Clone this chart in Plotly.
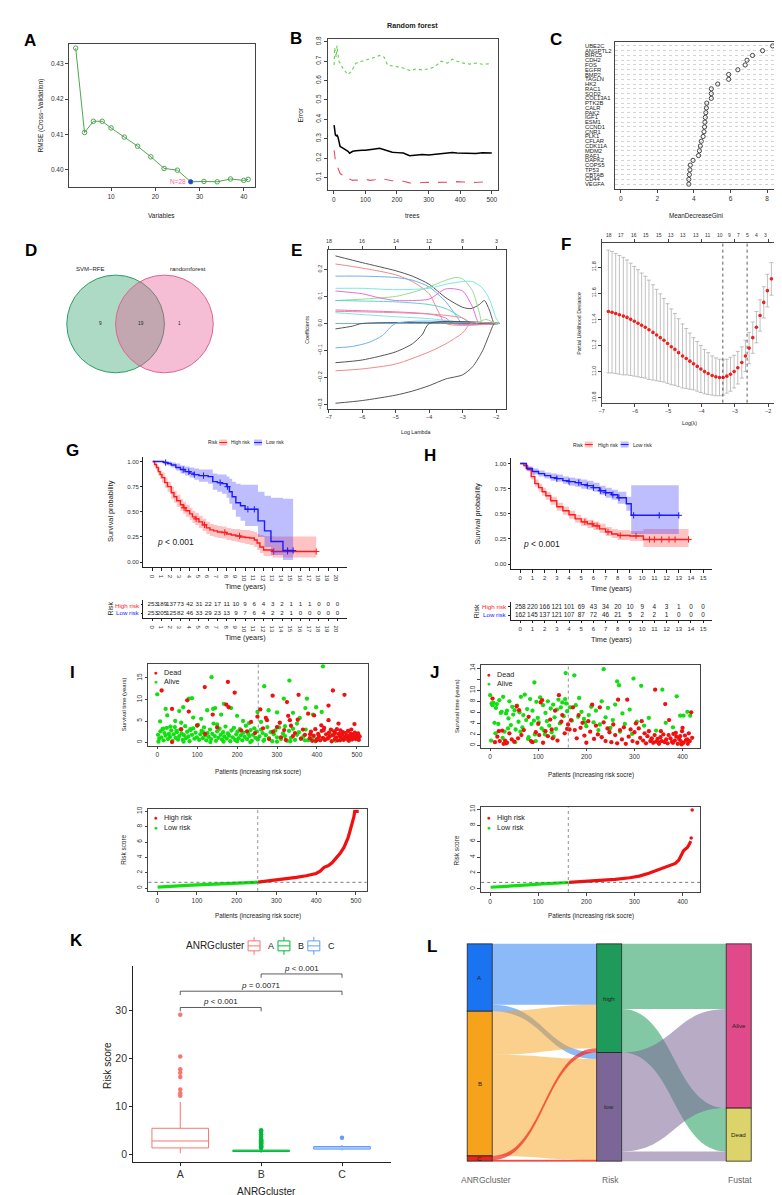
import plotly.graph_objects as go

W, H = 782, 1195
FONT = "Liberation Sans, Arial, sans-serif"

# ============================ DATA ============================
# (A) SVM-RFE cross-validation
a_variables = [2, 4, 6, 8, 10, 13, 16, 19, 22, 25, 28, 31, 34, 37, 40, 41]
a_rmse = [0.4345, 0.4105, 0.4137, 0.4137, 0.4118, 0.4092, 0.4066, 0.4036,
          0.4003, 0.3998, 0.3965, 0.3966, 0.3965, 0.3973, 0.3969, 0.3972]
a_best_n = 28

# (B) random forest error rate vs number of trees
b_trees = [1, 3, 5, 8, 10, 13, 16, 20, 25, 30, 35, 40, 45, 50, 55, 60, 70, 80, 90, 100,
           115, 130, 145, 160, 170, 185, 200, 220, 240, 260, 280, 300, 320, 340, 360,
           375, 390, 410, 430, 450, 470, 490, 500]
b_err_oob = [0.37, 0.33, 0.32, 0.315, 0.32, 0.31, 0.29, 0.26, 0.255, 0.25, 0.245, 0.24, 0.235,
             0.225, 0.23, 0.235, 0.238, 0.24, 0.24, 0.24, 0.242, 0.247, 0.25, 0.242, 0.235,
             0.23, 0.228, 0.226, 0.212, 0.215, 0.218, 0.216, 0.22, 0.224, 0.226, 0.228,
             0.226, 0.225, 0.226, 0.224, 0.227, 0.225, 0.226]
b_err_class0 = [0.24, 0.2, 0.19, 0.17, 0.16, 0.15, 0.13, 0.12, 0.115, 0.11, 0.105, 0.11, 0.1,
                0.092, 0.088, 0.085, 0.087, 0.085, 0.09, 0.09, 0.085, 0.088, 0.095, 0.09,
                0.087, 0.083, 0.082, 0.08, 0.072, 0.07, 0.074, 0.075, 0.075, 0.076, 0.075,
                0.074, 0.078, 0.076, 0.074, 0.074, 0.076, 0.077, 0.078]
b_err_class1 = [0.68, 0.77, 0.74, 0.72, 0.78, 0.72, 0.7, 0.69, 0.67, 0.66, 0.65, 0.64, 0.63,
                0.64, 0.645, 0.66, 0.69, 0.695, 0.7, 0.705, 0.71, 0.72, 0.73, 0.72, 0.68,
                0.675, 0.67, 0.665, 0.652, 0.66, 0.655, 0.66, 0.672, 0.7, 0.69, 0.71, 0.7,
                0.69, 0.685, 0.69, 0.684, 0.686, 0.68]

# (C) variable importance
c_genes = ["UBE2C", "ANGPTL2", "BIRC5", "CDH2", "FOS", "EGFR", "BMP2", "TAGLN", "HK2",
           "RAC1", "SOD2", "COL13A1", "PTK2B", "CALR", "PAK2", "IGF1", "ESM1", "CCND1",
           "CNR1", "PLK1", "CFLAR", "CDK11A", "MDM2", "RAF1", "DAPK2", "COPS5", "TP53",
           "CBTAB", "CD44", "VEGFA"]
c_gini = [8.3, 7.75, 7.2, 6.9, 6.8, 6.4, 5.9, 5.9, 5.3, 4.95, 4.95, 4.95, 4.7, 4.68, 4.65,
          4.62, 4.6, 4.58, 4.55, 4.5, 4.4, 4.35, 4.3, 4.25, 3.95, 3.8, 3.78, 3.75, 3.72, 3.72]

# (D) Venn
d_sets = ["SVM\u2212RFE", "randomforest"]
d_counts = [9, 19, 1]   # only SVM-RFE, both, only randomforest

# (E) LASSO coefficient paths (log lambda, coefficient)
e_paths_x = [
    [-6.8, -6, -5, -4.5, -4, -3.5, -3, -2.75, -2.5, -2.35, -2.2, -2.05, -1.9],
    [-6.8, -6, -5, -4.5, -4, -3.75, -3.5, -1.9],
    [-6.8, -6, -5, -4.5, -4, -3.5, -3.2, -3.0, -1.9],
    [-6.8, -6, -5, -4.5, -4, -3.5, -3.2, -3.0, -2.7, -2.5, -2.4, -1.9],
    [-6.8, -6, -5.5, -5, -4.5, -4, -3.5, -3, -2.7, -2.5, -1.9],
    [-6.8, -6, -5, -4, -3.5, -3, -2.7, -2.4, -2.2, -2.0, -1.9],
    [-6.8, -6, -5, -4, -3.5, -3, -2.75, -1.9],
    [-6.8, -6, -5, -4, -3.5, -3.3, -1.9],
    [-6.8, -6, -5, -4, -3.5, -3, -2.7, -1.9],
    [-6.8, -6, -5, -4, -3.4, -3.0, -2.75, -1.9],
    [-6.8, -4, -1.9],
    [-6.8, -6.3, -6, -1.9],
    [-6.8, -6.3, -5.8, -5.4, -5.0, -1.9],
    [-6.8, -6, -5, -4.5, -4.2, -4.0, -1.9],
    [-6.8, -6, -5, -4, -3.5, -3, -2.75, -1.9],
    [-6.8, -6, -5, -4.5, -4, -3.5, -3, -2.7, -2.4, -2.2, -2.05, -1.9],
    [-2.6, -2.3, -2.0, -1.9],
]
e_paths_y = [
    [0.25, 0.225, 0.195, 0.175, 0.145, 0.095, 0.06, 0.055, 0.07, 0.085, 0.05, 0.0, 0.0],
    [0.22, 0.205, 0.18, 0.155, 0.11, 0.05, 0.0, 0.0],
    [0.175, 0.175, 0.17, 0.16, 0.135, 0.08, 0.03, 0.0, 0.0],
    [0.085, 0.09, 0.1, 0.115, 0.135, 0.16, 0.17, 0.165, 0.12, 0.04, 0.0, 0.0],
    [0.12, 0.11, 0.095, 0.085, 0.085, 0.09, 0.128, 0.12, 0.06, 0.0, 0.0],
    [0.13, 0.13, 0.125, 0.13, 0.145, 0.155, 0.155, 0.13, 0.09, 0.02, 0.0],
    [0.085, 0.083, 0.08, 0.07, 0.055, 0.02, 0.0, 0.0],
    [0.05, 0.047, 0.043, 0.035, 0.02, 0.0, 0.0],
    [0.045, 0.043, 0.04, 0.035, 0.03, 0.02, 0.0, 0.0],
    [0.04, 0.033, 0.025, 0.018, 0.01, 0.004, 0.0, 0.0],
    [0.0, 0.0, 0.0],
    [-0.02, -0.01, 0.0, 0.0],
    [-0.09, -0.085, -0.07, -0.045, 0.0, 0.0],
    [-0.145, -0.135, -0.105, -0.075, -0.04, 0.0, 0.0],
    [-0.175, -0.168, -0.15, -0.105, -0.075, -0.035, 0.0, 0.0],
    [-0.295, -0.285, -0.265, -0.25, -0.23, -0.205, -0.19, -0.16, -0.1, -0.04, 0.0, 0.0],
    [0.0, 0.015, 0.0, 0.0],
]
e_top_at = [-7, -6, -5, -4, -3, -2]
e_top_labels = ["18", "16", "14", "12", "8", "3"]

# (F) cross-validated partial likelihood deviance
f_loglambda = [-6.80, -6.69, -6.58, -6.47, -6.35, -6.24, -6.13, -6.02, -5.91, -5.80, -5.69,
               -5.58, -5.46, -5.35, -5.24, -5.13, -5.02, -4.91, -4.80, -4.69, -4.57, -4.46,
               -4.35, -4.24, -4.13, -4.02, -3.91, -3.80, -3.68, -3.57, -3.46, -3.35, -3.24,
               -3.13, -3.02, -2.91, -2.79, -2.68, -2.57, -2.46, -2.35, -2.24, -2.13, -2.02,
               -1.90]
f_cvm = [11.46, 11.455, 11.445, 11.435, 11.425, 11.415, 11.40, 11.385, 11.37, 11.355, 11.34,
         11.32, 11.30, 11.28, 11.26, 11.24, 11.215, 11.19, 11.17, 11.145, 11.12, 11.10, 11.08,
         11.06, 11.04, 11.02, 11.0, 10.985, 10.97, 10.96, 10.955, 10.955, 10.965, 10.98, 11.0,
         11.03, 11.07, 11.12, 11.18, 11.26, 11.34, 11.43, 11.53, 11.62, 11.71]
f_cvsd = [0.47, 0.465, 0.46, 0.455, 0.45, 0.44, 0.43, 0.42, 0.41, 0.40, 0.39, 0.38, 0.365,
          0.35, 0.335, 0.32, 0.305, 0.29, 0.275, 0.26, 0.245, 0.23, 0.215, 0.20, 0.19, 0.18,
          0.17, 0.16, 0.15, 0.145, 0.14, 0.135, 0.13, 0.13, 0.125, 0.125, 0.12, 0.12, 0.12,
          0.12, 0.12, 0.12, 0.12, 0.125, 0.125]
f_lambda_min = -3.36
f_lambda_1se = -2.63
f_top_at = [-6.77, -6.43, -6.03, -5.66, -5.29, -4.91, -4.55, -4.18, -3.81, -3.43, -3.17,
            -2.9, -2.62, -2.36, -2.08]
f_top_labels = ["18", "17", "16", "15", "15", "13", "13", "13", "11", "10", "9", "7", "5",
                "4", "3"]

# (G) Kaplan-Meier, training cohort
g_high_t = [0, 0.2, 0.4, 0.6, 0.8, 1.0, 1.3, 1.6, 2.0, 2.3, 2.6, 3.0, 3.3, 3.6, 4.0, 4.3, 4.6,
            5.0, 5.4, 5.8, 6.2, 6.6, 7.0, 7.5, 8.0, 8.5, 9.0, 9.5, 10.0, 10.5, 11.0, 11.3,
            11.6, 12.0, 13.0, 17.7]
g_high_s = [1.0, 0.97, 0.94, 0.90, 0.87, 0.84, 0.79, 0.75, 0.69, 0.65, 0.61, 0.57, 0.54, 0.51,
            0.48, 0.45, 0.43, 0.40, 0.37, 0.34, 0.32, 0.31, 0.30, 0.295, 0.28, 0.27, 0.26,
            0.25, 0.245, 0.24, 0.22, 0.19, 0.15, 0.12, 0.105, 0.105]
g_high_lo = [1.0, 0.95, 0.91, 0.86, 0.83, 0.79, 0.74, 0.70, 0.63, 0.59, 0.55, 0.51, 0.48,
             0.45, 0.42, 0.39, 0.37, 0.34, 0.31, 0.28, 0.26, 0.25, 0.24, 0.235, 0.22, 0.21,
             0.20, 0.19, 0.18, 0.17, 0.15, 0.12, 0.09, 0.06, 0.045, 0.045]
g_high_hi = [1.0, 0.99, 0.97, 0.94, 0.91, 0.89, 0.84, 0.80, 0.75, 0.71, 0.67, 0.63, 0.60,
             0.57, 0.54, 0.51, 0.49, 0.46, 0.43, 0.40, 0.38, 0.37, 0.36, 0.355, 0.34, 0.33,
             0.33, 0.32, 0.32, 0.31, 0.30, 0.28, 0.27, 0.26, 0.255, 0.255]
g_low_t = [0, 1.2, 1.6, 2.0, 2.5, 3.0, 3.5, 4.0, 4.5, 5.0, 6.0, 6.5, 7.0, 7.5, 8.0, 8.3, 8.6,
           9.0, 9.5, 10.0, 11.4, 12.1, 12.8, 14.1, 15.2]
g_low_s = [1.0, 0.99, 0.98, 0.965, 0.94, 0.92, 0.90, 0.885, 0.87, 0.86, 0.85, 0.80, 0.79, 0.78,
           0.75, 0.70, 0.65, 0.59, 0.56, 0.525, 0.41, 0.31, 0.205, 0.115, 0.115]
g_low_lo = [1.0, 0.97, 0.96, 0.94, 0.91, 0.88, 0.86, 0.84, 0.82, 0.80, 0.78, 0.72, 0.70, 0.68,
            0.64, 0.58, 0.52, 0.45, 0.41, 0.36, 0.25, 0.15, 0.07, 0.02, 0.02]
g_low_hi = [1.0, 1.0, 1.0, 0.99, 0.98, 0.96, 0.95, 0.94, 0.93, 0.92, 0.92, 0.88, 0.87, 0.87,
            0.85, 0.83, 0.80, 0.78, 0.77, 0.77, 0.70, 0.66, 0.64, 0.63, 0.63]
g_high_censor = [3.4, 4.7, 5.6, 7.8, 9.4, 13.1, 14.6, 17.7]
g_low_censor = [1.4, 3.3, 3.9, 4.5, 5.5, 7.3, 8.1, 10.3, 11.0, 14.6, 15.2]
g_times = [0, 1, 2, 3, 4, 5, 6, 7, 8, 9, 10, 11, 12, 13, 14, 15, 16, 17, 18, 19, 20]
g_table_high = [253, 189, 137, 73, 42, 31, 22, 17, 11, 10, 9, 6, 4, 3, 2, 1, 1, 1, 0, 0, 0]
g_table_low = [253, 205, 125, 82, 46, 33, 29, 23, 13, 9, 7, 6, 4, 2, 2, 1, 0, 0, 0, 0, 0]

# (H) Kaplan-Meier, validation cohort
h_high_t = [0, 0.3, 0.6, 0.9, 1.2, 1.5, 1.8, 2.1, 2.5, 3.0, 3.5, 4.0, 4.5, 5.0, 5.5, 6.0, 6.5,
            7.0, 7.5, 8.0, 9.0, 10.1, 13.8]
h_high_s = [1.0, 0.98, 0.94, 0.87, 0.80, 0.76, 0.72, 0.68, 0.63, 0.57, 0.53, 0.49, 0.45, 0.42,
            0.40, 0.38, 0.35, 0.32, 0.30, 0.285, 0.28, 0.245, 0.245]
h_high_lo = [1.0, 0.96, 0.92, 0.84, 0.77, 0.72, 0.68, 0.64, 0.59, 0.53, 0.49, 0.45, 0.41, 0.38,
             0.36, 0.34, 0.31, 0.28, 0.26, 0.24, 0.23, 0.17, 0.17]
h_high_hi = [1.0, 1.0, 0.97, 0.91, 0.84, 0.80, 0.76, 0.72, 0.67, 0.61, 0.57, 0.53, 0.49, 0.46,
             0.44, 0.42, 0.40, 0.37, 0.35, 0.34, 0.33, 0.35, 0.35]
h_low_t = [0, 0.5, 1.0, 1.5, 2.0, 2.5, 3.0, 3.5, 4.0, 4.5, 5.0, 5.5, 6.0, 6.5, 7.0, 7.5, 8.0,
           8.7, 9.1, 13.0]
h_low_s = [1.0, 0.95, 0.92, 0.90, 0.88, 0.86, 0.85, 0.83, 0.82, 0.81, 0.79, 0.78, 0.76, 0.73,
           0.71, 0.69, 0.66, 0.60, 0.485, 0.485]
h_low_lo = [1.0, 0.93, 0.89, 0.87, 0.85, 0.83, 0.82, 0.80, 0.78, 0.77, 0.75, 0.74, 0.72, 0.69,
            0.66, 0.64, 0.60, 0.53, 0.30, 0.30]
h_low_hi = [1.0, 0.97, 0.95, 0.93, 0.91, 0.90, 0.89, 0.87, 0.86, 0.85, 0.84, 0.83, 0.81, 0.78,
            0.76, 0.74, 0.72, 0.67, 0.785, 0.785]
h_high_censor = [5.3, 5.9, 6.3, 7.2, 8.2, 9.5, 10.6, 11.0, 11.6, 12.2, 12.7, 13.8]
h_low_censor = [3.0, 4.0, 4.8, 5.5, 6.0, 6.6, 7.0, 7.6, 8.1, 9.3, 11.4, 13.0]
h_times = [0, 1, 2, 3, 4, 5, 6, 7, 8, 9, 10, 11, 12, 13, 14, 15]
h_table_high = [258, 220, 166, 121, 101, 69, 43, 34, 20, 10, 9, 4, 3, 1, 0, 0]
h_table_low = [162, 145, 137, 121, 107, 87, 72, 46, 21, 5, 2, 2, 1, 0, 0, 0]

# (I) survival status / risk score, training cohort
i_alive_x = [2, 5, 8, 10, 13, 16, 18, 21, 24, 27,
             29, 32, 35, 38, 41, 44, 46, 49, 52, 55,
             58, 61, 64, 67, 70, 72, 75, 78, 81, 84,
             87, 90, 93, 96, 99, 102, 105, 108, 111, 114,
             117, 120, 123, 126, 129, 132, 135, 138, 141, 144,
             147, 150, 153, 156, 159, 162, 165, 168, 171, 174,
             177, 180, 183, 186, 189, 192, 195, 198, 201, 204,
             207, 210, 213, 216, 219, 222, 225, 228, 231, 234,
             237, 240, 243, 246, 249, 252, 256, 260, 264, 268,
             272, 276, 280, 284, 288, 292, 296, 300, 305, 310,
             315, 320, 325, 330, 335, 340, 345, 350, 355, 360,
             366, 372, 378, 384, 390, 396, 405, 418, 432, 447,
             462, 478, 493, 505, 3, 33, 66, 100, 133, 166,
             200, 233, 266, 300, 333, 370, 15, 48, 83, 115,
             0, 7, 21, 25, 45, 55, 65, 79, 87, 90,
             110, 125, 136, 140, 145, 160, 167, 185, 200, 215,
             230, 251, 268, 279, 300, 317, 331, 340, 357, 371,
             375, 390, 398, 412, 415, 60, 150, 260, 320, 350]
i_alive_t = [1.8, 0.9, 2.6, 1.2, 3.1, 0.5, 2.2, 1.6, 3.4, 0.8,
             2.0, 1.3, 2.8, 0.4, 1.9, 3.6, 1.1, 2.4, 0.7, 1.5,
             3.0, 2.1, 0.6, 1.7, 3.8, 1.0, 2.5, 1.4, 0.3, 2.9,
             1.8, 3.3, 0.9, 2.3, 1.2, 4.1, 0.6, 1.9, 2.7, 1.0,
             3.5, 1.6, 0.5, 2.2, 1.3, 3.0, 0.8, 2.0, 4.4, 1.5,
             0.4, 2.6, 1.1, 3.2, 1.8, 0.7, 2.4, 1.4, 3.7, 0.9,
             2.1, 1.6, 0.3, 2.8, 1.2, 3.4, 0.6, 1.9, 2.5, 1.0,
             3.1, 1.7, 0.5, 2.3, 1.3, 3.9, 0.8, 2.0, 1.5, 2.9,
             0.4, 1.8, 3.3, 1.1, 2.6, 0.7, 1.4, 3.0, 2.2, 0.6,
             1.7, 3.6, 1.0, 2.4, 0.3, 1.9, 2.8, 1.2, 3.5, 0.8,
             2.1, 1.5, 0.4, 2.7, 1.1, 3.2, 0.6, 1.8, 2.4, 0.9,
             1.4, 3.0, 0.5, 2.0, 1.2, 0.3, 1.6, 0.7, 2.2, 0.4,
             1.8, 0.6, 2.0, 1.5, 0.2, 3.7, 0.2, 3.9, 0.1, 0.2,
             0.3, 0.1, 0.4, 0.2, 0.3, 0.5, 3.2, 2.7, 3.1, 2.4,
             11.2, 4.9, 7.8, 6.3, 5.0, 7.3, 8.2, 10.2, 10.3, 5.8,
             5.5, 7.5, 15.2, 7.8, 8.0, 6.5, 9.0, 8.0, 6.2, 5.0,
             4.5, 7.1, 13.1, 7.5, 7.0, 10.2, 14.4, 6.9, 5.7, 8.0,
             10.2, 6.5, 8.2, 7.1, 17.7, 4.6, 4.2, 4.8, 3.8, 4.4]
i_dead_x = [11, 37, 37, 75, 79, 119, 139, 173, 177, 179,
            194, 210, 235, 251, 100, 150, 225, 120, 60, 245,
            258, 272, 275, 289, 307, 325, 328, 332, 354, 352,
            378, 393, 411, 429, 429, 440, 454, 469, 494, 265,
            280, 290, 300, 310, 318, 322, 335, 340, 345, 360,
            365, 370, 382, 385, 388, 392, 396, 400, 403, 405,
            408, 412, 415, 418, 420, 423, 426, 430, 432, 435,
            437, 440, 443, 445, 448, 450, 452, 455, 457, 459,
            461, 463, 465, 467, 470, 472, 474, 476, 478, 480,
            482, 484, 486, 488, 490, 492, 495, 497, 499, 501,
            503, 505, 507, 383, 398, 417, 428, 446, 458, 486]
i_dead_t = [12.1, 7.8, 0.1, 9.8, 7.2, 12.9, 6.5, 8.8, 14.1, 8.2,
            11.6, 2.8, 4.8, 6.0, 4.0, 3.5, 2.6, 2.0, 3.1, 2.2,
            7.7, 5.7, 5.2, 10.9, 4.6, 9.4, 6.2, 5.2, 11.1, 5.3,
            6.7, 6.3, 4.0, 8.6, 5.2, 12.1, 4.4, 11.1, 4.3, 3.3,
            0.8, 2.5, 3.6, 1.2, 2.9, 0.6, 3.9, 1.5, 2.2, 0.9,
            3.0, 1.8, 1.0, 2.5, 0.4, 1.6, 3.1, 0.8, 2.0, 1.3,
            0.5, 2.7, 1.1, 3.4, 0.6, 1.9, 0.9, 2.3, 1.4, 3.0,
            0.3, 1.7, 2.6, 0.8, 1.2, 3.1, 0.5, 2.0, 1.5, 2.8,
            0.9, 1.8, 2.4, 0.6, 1.3, 2.2, 0.9, 1.6, 2.7, 0.4,
            1.1, 2.0, 1.5, 0.7, 1.9, 1.2, 2.3, 0.8, 1.6, 1.0,
            2.1, 0.6, 1.4, 1.9, 0.4, 2.9, 1.0, 2.2, 0.5, 3.0]
i_cutoff_patient = 253
i_cutoff_score = 0.75
i_risk_low_x = [1, 25, 50, 75, 100, 125, 150, 175, 200, 225, 253]
i_risk_low = [0.12, 0.22, 0.30, 0.36, 0.42, 0.48, 0.54, 0.60, 0.65, 0.70, 0.76]
i_risk_high_x = [254, 275, 300, 325, 350, 375, 400, 410, 420, 430, 440, 450, 460, 470, 475,
                 480, 485, 490, 495, 497, 507]
i_risk_high = [0.78, 0.90, 1.02, 1.20, 1.40, 1.60, 1.90, 2.20, 2.70, 2.90, 3.30, 3.90, 4.50,
               5.30, 5.80, 6.50, 7.40, 8.20, 9.30, 10.0, 10.0]

# (J) survival status / risk score, validation cohort
j_alive_x = [0, 3, 5, 7, 9, 12, 14, 17, 19, 22,
             24, 27, 30, 33, 35, 38, 40, 43, 46, 48,
             51, 53, 56, 59, 61, 64, 67, 69, 72, 75,
             77, 80, 83, 86, 88, 91, 93, 96, 99, 101,
             104, 107, 110, 112, 115, 118, 120, 123, 126, 128,
             131, 134, 137, 139, 142, 145, 147, 150, 153, 156,
             158, 160, 157, 175, 236, 264, 268, 298, 314, 358,
             388, 92, 170, 178, 185, 190, 195, 200, 205, 210,
             215, 220, 225, 232, 240, 245, 250, 255, 260, 270,
             275, 280, 290, 295, 305, 320, 330, 345, 365, 380,
             395, 402, 410, 416, 166, 183, 198, 212, 228, 248,
             2, 11, 26, 37, 52, 63, 79, 95, 114, 132]
j_alive_t = [9.1, 7.6, 7.3, 7.7, 4.1, 6.8, 7.5, 3.9, 8.2, 5.9,
             6.1, 8.8, 2.5, 5.8, 6.3, 4.9, 8.0, 3.7, 7.0, 5.6,
             6.4, 2.9, 7.2, 4.3, 6.0, 8.8, 3.3, 5.5, 9.2, 4.6,
             6.6, 1.5, 8.4, 3.9, 6.3, 4.5, 2.0, 7.9, 5.0, 4.2,
             8.7, 3.1, 7.3, 2.7, 5.9, 4.4, 8.0, 3.6, 6.7, 2.4,
             7.4, 5.1, 3.0, 6.5, 8.3, 4.0, 6.9, 7.8, 5.3, 8.4,
             7.6, 6.2, 13.1, 12.7, 13.8, 11.6, 10.9, 12.1, 10.8, 10.1,
             8.9, 11.4, 4.5, 7.3, 8.6, 6.1, 4.8, 3.5, 5.5, 7.0,
             4.2, 6.3, 2.8, 8.0, 5.1, 6.8, 3.2, 4.6, 7.4, 2.5,
             5.8, 3.9, 6.5, 2.1, 4.3, 3.6, 5.0, 2.7, 4.1, 3.3,
             5.4, 5.4, 6.1, 5.4, 6.9, 5.2, 4.1, 7.2, 3.8, 2.9,
             0.9, 2.2, 1.4, 3.1, 0.6, 2.5, 1.2, 0.8, 2.0, 1.6]
j_dead_x = [5, 10, 15, 20, 25, 28, 31, 35, 40, 45,
            50, 55, 60, 65, 70, 80, 85, 95, 100, 105,
            110, 115, 125, 130, 135, 143, 150, 155, 162, 108,
            120, 140, 18, 33, 58, 88, 102, 128, 148, 160,
            165, 168, 172, 176, 180, 184, 188, 192, 196, 200,
            204, 208, 212, 216, 220, 224, 228, 232, 236, 240,
            244, 248, 252, 256, 260, 264, 266, 270, 274, 278,
            282, 285, 288, 292, 296, 300, 303, 306, 309, 312,
            315, 318, 321, 324, 327, 330, 333, 336, 339, 342,
            343, 345, 348, 351, 354, 357, 360, 363, 364, 366,
            369, 372, 375, 378, 381, 384, 387, 390, 393, 396,
            399, 400, 402, 405, 408, 411, 413, 415, 418, 420,
            335, 350, 371, 386, 398, 410, 355, 380, 395, 407]
j_dead_t = [8.5, 0.6, 1.6, 0.8, 2.7, 0.3, 0.9, 0.5, 2.2, 1.1,
            0.7, 7.1, 6.4, 1.9, 2.8, 5.2, 0.8, 2.4, 3.9, 7.8,
            0.5, 2.6, 4.7, 1.3, 6.3, 9.1, 5.5, 2.2, 3.8, 8.2,
            1.7, 0.9, 2.6, 0.4, 1.3, 0.6, 1.9, 2.9, 4.3, 3.0,
            2.9, 4.6, 6.9, 2.8, 1.3, 5.5, 3.2, 4.1, 1.8, 0.5,
            4.4, 2.5, 7.4, 1.2, 3.6, 2.0, 6.9, 1.5, 4.2, 0.8,
            3.1, 2.4, 0.6, 3.8, 1.9, 0.4, 8.3, 2.8, 1.1, 3.3,
            0.3, 8.3, 1.6, 2.9, 0.8, 2.4, 4.0, 0.5, 3.1, 1.4,
            4.4, 0.9, 2.2, 0.4, 1.7, 2.6, 0.8, 1.3, 0.5, 1.9,
            10.1, 0.7, 1.2, 0.3, 1.5, 0.8, 2.0, 0.6, 7.5, 1.1,
            0.4, 4.6, 1.3, 0.7, 2.1, 0.9, 1.6, 0.3, 1.2, 0.8,
            2.6, 3.2, 0.5, 1.8, 1.0, 0.3, 2.2, 0.8, 6.0, 1.4,
            1.0, 0.6, 1.9, 2.3, 0.2, 1.1, 2.6, 0.5, 1.7, 0.9]
j_cutoff_patient = 162.5
j_cutoff_score = 0.81
j_risk_low_x = [1, 20, 40, 60, 80, 100, 120, 140, 163]
j_risk_low = [0.2, 0.25, 0.3, 0.38, 0.5, 0.6, 0.68, 0.75, 0.8]
j_risk_high_x = [164, 200, 230, 260, 290, 310, 330, 350, 370, 385, 392, 398, 402, 406, 410,
                 414, 417, 418, 420]
j_risk_high = [0.82, 0.95, 1.05, 1.2, 1.4, 1.6, 1.95, 2.4, 2.85, 3.2, 3.6, 4.4, 4.8, 5.0,
               5.2, 5.6, 6.0, 6.4, 9.9]

# (K) risk score by ANRG cluster
k_groups = ["A", "B", "C"]
k_q1 = [1.3, 0.55, 1.05]
k_median = [2.75, 0.7, 1.3]
k_q3 = [5.4, 0.85, 1.6]
k_lowerfence = [0.2, 0.3, 0.8]
k_upperfence = [10.9, 1.25, 1.9]
k_outliers = [[12.2, 12.7, 13.5, 16.1, 17.0, 17.7, 20.4, 29.1],
              [1.3, 1.45, 1.6, 1.75, 1.9, 2.1, 2.3, 2.5, 2.7, 2.9, 3.1, 3.6, 4.1, 4.6, 5.0],
              [3.45]]
k_pairs = [(1, 2), (1, 3), (2, 3)]
k_pvalues = ["<i>p</i> < 0.001", "<i>p</i> = 0.0071", "<i>p</i> < 0.001"]
k_bracket_y = [30.6, 34.0, 37.6]

# (L) alluvial ANRGcluster -> Risk -> Fustat
l_nodes = ["A", "B", "C", "high", "low", "Alive", "Dead"]
l_source = [0, 0, 1, 1, 2, 2, 3, 3, 4, 4]
l_target = [3, 4, 3, 4, 3, 4, 5, 6, 5, 6]
l_value = [140, 15, 100, 233, 10, 2, 150, 100, 228, 22]
l_axes = ["ANRGcluster", "Risk", "Fustat"]

# ============================ HELPERS ============================
def px(x):
    return x / W


def py(y):
    return 1 - y / H


def xid(n):
    return "x" if n == 1 else "x%d" % n


def yid(n):
    return "y" if n == 1 else "y%d" % n


fig = go.Figure()
axes = {}
ann = []
shp = []


def axis_pair(n, box, xr, yr, xkw, ykw):
    x0, x1, y0, y1 = box
    xa = dict(domain=[px(x0), px(x1)], anchor=yid(n), range=xr)
    ya = dict(domain=[py(y1), py(y0)], anchor=xid(n), range=yr)
    xa.update(xkw)
    ya.update(ykw)
    axes["xaxis" if n == 1 else "xaxis%d" % n] = xa
    axes["yaxis" if n == 1 else "yaxis%d" % n] = ya


def text(t, x, y, size=7, color="#222", angle=0, xa="center", ya="middle", bold=False):
    if bold:
        t = "<b>%s</b>" % t
    ann.append(dict(text=t, x=px(x), y=py(y), xref="paper", yref="paper", showarrow=False,
                    font=dict(size=size, color=color, family=FONT), textangle=angle,
                    xanchor=xa, yanchor=ya, borderpad=0))


def add(trace, n):
    trace.update(xaxis=xid(n), yaxis=yid(n), showlegend=False, hoverinfo="skip")
    fig.add_trace(trace)


def rbase(size=6.5, **kw):
    d = dict(showline=True, mirror=True, linecolor="#444", linewidth=0.8, ticks="outside",
             ticklen=3, tickwidth=0.7, tickcolor="#444", showgrid=False, zeroline=False,
             tickfont=dict(size=size, color="#333", family=FONT))
    d.update(kw)
    return d


def gg(size=6, **kw):
    d = dict(showline=True, mirror=False, linecolor="#222", linewidth=0.8, ticks="outside",
             ticklen=2.5, tickwidth=0.7, tickcolor="#222", showgrid=False, zeroline=False,
             tickfont=dict(size=size, color="#333", family=FONT))
    d.update(kw)
    return d


def step_at(tt, ts, ss):
    v = ss[0]
    for a, b in zip(ts, ss):
        if a <= tt:
            v = b
    return v


def letter(ch, x, y):
    text(ch, x, y, 17, "#000", bold=True)


# ============================ PANEL A ============================
axis_pair(1, (58, 245, 33, 177), [0.44, 42.56], [0.3949, 0.4357],
          rbase(tickvals=[10, 20, 30, 40]),
          rbase(tickvals=[0.40, 0.41, 0.42, 0.43], ticktext=["0.40", "0.41", "0.42", "0.43"]))
add(go.Scatter(x=a_variables, y=a_rmse, mode="lines+markers",
               line=dict(color="#52a552", width=1),
               marker=dict(symbol="circle-open", size=4.5, color="#52a552", line=dict(width=1))), 1)
bi = a_variables.index(a_best_n)
add(go.Scatter(x=[a_best_n], y=[a_rmse[bi]], mode="markers",
               marker=dict(color="#1f3fe0", size=4.5)), 1)
ann.append(dict(text="N=%d" % a_best_n, x=a_best_n, y=a_rmse[bi], xref="x", yref="y",
                xanchor="right", xshift=-3, showarrow=False,
                font=dict(size=6.5, color="#f07090", family=FONT)))
text("RMSE (Cross\u2212Validation)", 30, 105, 6.5, angle=-90)
text("Variables", 151, 205, 6.5)
letter("A", 19, 30)

# ============================ PANEL B ============================
axis_pair(2, (318, 489, 28, 180), [-19, 520], [0.033, 0.815],
          rbase(tickvals=[0, 100, 200, 300, 400, 500]),
          rbase(tickvals=[0.1, 0.2, 0.3, 0.4, 0.5, 0.6, 0.7, 0.8],
                ticktext=["0.1", "0.2", "0.3", "0.4", "0.5", "0.6", "0.7", "0.8"], tickangle=-90))
add(go.Scatter(x=b_trees, y=b_err_class1, mode="lines",
               line=dict(color="#61D04F", width=1.1, dash="dot")), 2)
add(go.Scatter(x=b_trees, y=b_err_class0, mode="lines",
               line=dict(color="#DF536B", width=1.1, dash="dash")), 2)
add(go.Scatter(x=b_trees, y=b_err_oob, mode="lines", line=dict(color="#000", width=1.5)), 2)
text("Random forest", 403, 15, 7.2, "#222", bold=True)
text("Error", 291, 104, 6.5, angle=-90)
text("trees", 403, 205, 6.5)
letter("B", 286, 28)

# ============================ PANEL C ============================
c_pos = [len(c_genes) - k for k in range(len(c_genes))]
axis_pair(3, (606, 771, 31, 179), [-0.33, 8.65], [-0.1, 30.84],
          rbase(tickvals=[0, 2, 4, 6, 8]),
          dict(showline=True, mirror=True, linecolor="#444", linewidth=0.8,
               showticklabels=False, ticks="", tickvals=c_pos, showgrid=True,
               gridcolor="#d4d4d4", griddash="dot", gridwidth=0.6, zeroline=False))
add(go.Scatter(x=c_gini, y=c_pos, mode="markers",
               marker=dict(symbol="circle-open", size=4.2, color="#333", line=dict(width=0.9))), 3)
for g, p in zip(c_genes, c_pos):
    ann.append(dict(text=g, x=px(575), y=p, xref="paper", yref="y3", showarrow=False,
                    xanchor="left", yanchor="middle", borderpad=0,
                    font=dict(size=5.8, color="#222", family=FONT)))
text("MeanDecreaseGini", 688, 205, 6.3)
letter("C", 547, 29)

# ============================ PANEL D (Venn) ============================
axis_pair(4, (0, 260, 230, 420), [0, 260], [420, 230], dict(visible=False), dict(visible=False))
add(go.Scatter(x=[], y=[]), 4)
venn_r = 49
for cx, fill, edge in [(105, "rgba(39,158,100,0.38)", "#2e9e6b"),
                       (154, "rgba(232,85,145,0.38)", "#e0658f")]:
    shp.append(dict(type="circle", xref="x4", yref="y4", x0=cx - venn_r, x1=cx + venn_r,
                    y0=314 - venn_r, y1=314 + venn_r, fillcolor=fill,
                    line=dict(color=edge, width=1)))
text(d_sets[0], 80, 259, 6)
text(d_sets[1], 178, 259, 6)
for cnt, cx in zip(d_counts, [90, 130, 169]):
    text(str(cnt), cx, 314, 4.8)
letter("D", 20, 240)

# ============================ PANEL E ============================
axis_pair(5, (318, 497, 240, 399), [-7.03, -1.70], [-0.315, 0.271],
          rbase(5.5, tickvals=[-7, -6, -5, -4, -3, -2],
                ticktext=["\u22127", "\u22126", "\u22125", "\u22124", "\u22123", "\u22122"],
                mirror="ticks"),
          rbase(5.5, tickvals=[-0.3, -0.2, -0.1, 0.0, 0.1, 0.2],
                ticktext=["\u22120.3", "\u22120.2", "\u22120.1", "0.0", "0.1", "0.2"],
                tickangle=-90))
e_colors = ["#555555", "#f08a8a", "#6fb1ec", "#98dc8c", "#e36fd8", "#7de6e6", "#5fd0d8",
            "#e36fd8", "#f08a8a", "#7de6e6", "#6fb1ec", "#555555", "#6fb1ec", "#555555",
            "#f08a8a", "#555555", "#98dc8c"]
for xs, ys, col in zip(e_paths_x, e_paths_y, e_colors):
    add(go.Scatter(x=xs, y=ys, mode="lines",
                   line=dict(color=col, width=1, shape="spline", smoothing=0.7)), 5)
for v, lab in zip(e_top_at, e_top_labels):
    ann.append(dict(text=lab, x=v, y=1, xref="x5", yref="y5 domain", yanchor="bottom",
                    yshift=4, showarrow=False, font=dict(size=5.3, color="#333", family=FONT)))
text("Coefficients", 297, 320, 5.3, angle=-90)
text("Log Lambda", 407, 422, 5.3)
letter("E", 287, 240)

# ============================ PANEL F ============================
axis_pair(6, (593, 770, 233, 393), [-7.0, -1.7], [10.762, 11.983],
          rbase(5.5, tickvals=[-7, -6, -5, -4, -3, -2],
                ticktext=["\u22127", "\u22126", "\u22125", "\u22124", "\u22123", "\u22122"],
                mirror="ticks"),
          rbase(5.5, tickvals=[10.8, 11.0, 11.2, 11.4, 11.6, 11.8],
                ticktext=["10.8", "11.0", "11.2", "11.4", "11.6", "11.8"], tickangle=-90))
add(go.Scatter(x=f_loglambda, y=f_cvm, mode="markers",
               marker=dict(color="#ee2020", size=3.6),
               error_y=dict(type="data", array=f_cvsd, color="#b0b0b0", thickness=0.8,
                            width=2)), 6)
for v in [f_lambda_min, f_lambda_1se]:
    shp.append(dict(type="line", xref="x6", yref="y6 domain", x0=v, x1=v, y0=0, y1=1,
                    line=dict(color="#333", width=0.8, dash="dot")))
for v, lab in zip(f_top_at, f_top_labels):
    ann.append(dict(text=lab, x=v, y=1, xref="x6", yref="y6 domain", yanchor="bottom",
                    yshift=3, showarrow=False, font=dict(size=5.0, color="#333", family=FONT)))
text("Partial Likelihood Deviance", 570, 313, 5.2, angle=-90)
text("Log(\u03bb)", 681, 413, 5.3)
letter("F", 557, 234)


# ============================ KM helpers ============================
def km(n, t, s, lo, hi, color, fill, cens):
    add(go.Scatter(x=t, y=lo, mode="lines", line=dict(width=0, shape="hv")), n)
    add(go.Scatter(x=t, y=hi, mode="lines", line=dict(width=0, shape="hv"), fill="tonexty",
                   fillcolor=fill), n)
    add(go.Scatter(x=t, y=s, mode="lines", line=dict(color=color, width=1.4, shape="hv")), n)
    add(go.Scatter(x=cens, y=[step_at(c, t, s) for c in cens], mode="markers",
                   marker=dict(symbol="cross-thin", size=4.5, color=color,
                               line=dict(color=color, width=1))), n)


def km_key(x0, y, color, fill):
    shp.append(dict(type="rect", xref="paper", yref="paper", x0=px(x0), x1=px(x0 + 8),
                    y0=py(y + 3), y1=py(y - 3), fillcolor=fill, line=dict(width=0)))
    shp.append(dict(type="line", xref="paper", yref="paper", x0=px(x0), x1=px(x0 + 8),
                    y0=py(y), y1=py(y), line=dict(color=color, width=1)))


RED, BLUE = "#ff1a1a", "#1a1aff"
REDF, BLUEF = "rgba(255,40,40,0.28)", "rgba(40,40,255,0.3)"

# ============================ PANEL G ============================
axis_pair(7, (133, 337, 447, 558), [-1, 21], [-0.05, 1.05],
          gg(6, tickvals=g_times),
          gg(6, tickvals=[0, 0.25, 0.5, 0.75, 1.0], ticktext=["0.00", "0.25", "0.50", "0.75", "1.00"]))
km(7, g_high_t, g_high_s, g_high_lo, g_high_hi, RED, REDF, g_high_censor)
km(7, g_low_t, g_low_s, g_low_lo, g_low_hi, BLUE, BLUEF, g_low_censor)
axis_pair(8, (133, 337, 591, 609), [-1, 21], [-0.6, 1.6],
          gg(6, tickvals=g_times), gg(6, tickvals=[0, 1], ticktext=["", ""], ticklen=2))
add(go.Scatter(x=g_times, y=[1] * len(g_times), mode="text", text=[str(v) for v in g_table_high],
               textfont=dict(size=6.2, color="#222", family=FONT)), 8)
add(go.Scatter(x=g_times, y=[0] * len(g_times), mode="text", text=[str(v) for v in g_table_low],
               textfont=dict(size=6.2, color="#222", family=FONT)), 8)
text("Survival probability", 100, 502, 7.3, angle=-90)
text("Time (years)", 235, 577, 7.3)
text("Time (years)", 235, 629, 7.3)
text("Risk", 100, 600, 7, angle=-90)
text("High risk", 131, 596, 6.2, RED, xa="right")
text("Low risk", 131, 604, 6.2, BLUE, xa="right")
text("<i>p</i> < 0.001", 146, 533, 8.5, xa="left")
text("Risk", 197, 433, 4.8, xa="left")
km_key(209, 433, RED, REDF)
text("High risk", 220, 433, 4.8, xa="left")
km_key(244, 433, BLUE, BLUEF)
text("Low risk", 255, 433, 4.8, xa="left")
letter("G", 62, 441)

# ============================ PANEL H ============================
axis_pair(9, (502, 704, 449, 560), [-0.75, 15.75], [-0.05, 1.05],
          gg(6, tickvals=h_times),
          gg(6, tickvals=[0, 0.25, 0.5, 0.75, 1.0], ticktext=["0.00", "0.25", "0.50", "0.75", "1.00"]))
km(9, h_high_t, h_high_s, h_high_lo, h_high_hi, RED, REDF, h_high_censor)
km(9, h_low_t, h_low_s, h_low_lo, h_low_hi, BLUE, BLUEF, h_low_censor)
axis_pair(10, (502, 704, 593, 611), [-0.75, 15.75], [-0.6, 1.6],
          gg(6, tickvals=h_times), gg(6, tickvals=[0, 1], ticktext=["", ""], ticklen=2))
add(go.Scatter(x=h_times, y=[1] * len(h_times), mode="text", text=[str(v) for v in h_table_high],
               textfont=dict(size=6.4, color="#222", family=FONT)), 10)
add(go.Scatter(x=h_times, y=[0] * len(h_times), mode="text", text=[str(v) for v in h_table_low],
               textfont=dict(size=6.4, color="#222", family=FONT)), 10)
text("Survival probability", 468, 504, 7.3, angle=-90)
text("Time (years)", 603, 579, 7.3)
text("Time (years)", 603, 631, 7.3)
text("Risk", 468, 602, 7, angle=-90)
text("High risk", 499, 598, 6.2, RED, xa="right")
text("Low risk", 499, 606, 6.2, BLUE, xa="right")
text("<i>p</i> < 0.001", 513, 535, 8.5, xa="left")
text("Risk", 563, 435, 5.1, xa="left")
km_key(576, 435, RED, REDF)
text("High risk", 588, 435, 5.1, xa="left")
km_key(612, 435, BLUE, BLUEF)
text("Low risk", 623, 435, 5.1, xa="left")
letter("H", 421, 446)

# ============================ PANELS I / J ============================
SRED, SGREEN = "#f01010", "#10e010"


def status_panel(n, dx, dt, ax_, at, cut):
    add(go.Scatter(x=ax_, y=at, mode="markers", marker=dict(color=SGREEN, size=4.3)), n)
    add(go.Scatter(x=dx, y=dt, mode="markers", marker=dict(color=SRED, size=4.3)), n)
    shp.append(dict(type="line", xref=xid(n), yref=yid(n) + " domain", x0=cut, x1=cut, y0=0,
                    y1=1, line=dict(color="#777", width=0.8, dash="dot")))


def risk_panel(n, lx, lv, hx, hv, cutp, cuts, nline):
    add(go.Scatter(x=lx, y=lv, mode="lines", line=dict(color=SGREEN, width=3.2)), n)
    add(go.Scatter(x=hx[:nline], y=hv[:nline], mode="lines", line=dict(color=SRED, width=3.2)), n)
    if nline < len(hx):
        add(go.Scatter(x=hx[nline:], y=hv[nline:], mode="markers",
                       marker=dict(color=SRED, size=3.5)), n)
    shp.append(dict(type="line", xref=xid(n), yref=yid(n) + " domain", x0=cutp, x1=cutp, y0=0,
                    y1=1, line=dict(color="#777", width=0.8, dash="dot")))
    shp.append(dict(type="line", xref=xid(n) + " domain", yref=yid(n), x0=0, x1=1, y0=cuts,
                    y1=cuts, line=dict(color="#555", width=0.8, dash="dot")))


def dot_legend(x, y1, y2, lab1, lab2):
    text("\u25cf", x, y1, 6.5, SRED)
    text(lab1, x + 7, y1, 7.2, "#222", xa="left")
    text("\u25cf", x, y2, 6.5, SGREEN)
    text(lab2, x + 7, y2, 7.2, "#222", xa="left")


axis_pair(11, (138, 358, 655, 737), [-22, 527], [-0.7, 18.3],
          rbase(6.5, tickvals=[0, 100, 200, 300, 400, 500]),
          rbase(6.5, tickvals=[0, 5, 10, 15], tickangle=-90))
status_panel(11, i_dead_x, i_dead_t, i_alive_x, i_alive_t, i_cutoff_patient)
axis_pair(12, (138, 357, 801, 883), [-22, 527], [-0.39, 10.26],
          rbase(6.5, tickvals=[0, 100, 200, 300, 400, 500]),
          rbase(6.5, tickvals=[0, 2, 4, 6, 8, 10], tickangle=-90))
risk_panel(12, i_risk_low_x, i_risk_low, i_risk_high_x, i_risk_high, i_cutoff_patient,
           i_cutoff_score, len(i_risk_high_x))
dot_legend(146, 664, 673, "Dead", "Alive")
dot_legend(146, 809, 819, "High risk", "Low risk")
text("Survival time (years)", 113, 696, 5.9, angle=-90)
text("Patients (increasing risk socre)", 248, 764, 6.3)
text("Risk score", 113, 842, 6.4, angle=-90)
text("Patients (increasing risk socre)", 248, 908, 6.3)
letter("I", 62, 664)

axis_pair(13, (472, 692, 656, 739), [-18.6, 437], [-0.36, 14.6],
          rbase(6.5, tickvals=[0, 100, 200, 300, 400]),
          rbase(6.5, tickvals=[0, 2, 4, 6, 8, 10, 12, 14],
                ticktext=["0", "2", "4", "6", "8", "10", "", "14"], tickangle=-90))
status_panel(13, j_dead_x, j_dead_t, j_alive_x, j_alive_t, j_cutoff_patient)
axis_pair(14, (472, 692, 799, 884), [-18.6, 437], [-0.4, 10.25],
          rbase(6.5, tickvals=[0, 100, 200, 300, 400]),
          rbase(6.5, tickvals=[0, 2, 4, 6, 8, 10], tickangle=-90))
risk_panel(14, j_risk_low_x, j_risk_low, j_risk_high_x, j_risk_high, j_cutoff_patient,
           j_cutoff_score, len(j_risk_high_x) - 2)
dot_legend(480, 666, 675, "Dead", "Alive")
dot_legend(480, 809, 819, "High risk", "Low risk")
text("Survival time (years)", 447, 697, 5.9, angle=-90)
text("Patients (increasing risk socre)", 582, 767, 6.3)
text("Risk score", 447, 842, 6.4, angle=-90)
text("Patients (increasing risk socre)", 582, 908, 6.3)
letter("J", 425, 664)

# ============================ PANEL K ============================
k_colors = ["#F8766D", "#00BA38", "#619CFF"]
axis_pair(15, (122, 381, 958, 1155), [0.41, 3.6], [-1.66, 39.3],
          gg(10.5, tickvals=[1, 2, 3], ticktext=k_groups),
          gg(10.5, tickvals=[0, 10, 20, 30]))
for i, g in enumerate(k_groups):
    add(go.Box(x=[i + 1], q1=[k_q1[i]], median=[k_median[i]], q3=[k_q3[i]],
               lowerfence=[k_lowerfence[i]], upperfence=[k_upperfence[i]], width=0.7,
               line=dict(color=k_colors[i], width=1), fillcolor="rgba(255,255,255,0)",
               boxpoints=False, whiskerwidth=0, name=g), 15)
    add(go.Scatter(x=[i + 1] * len(k_outliers[i]), y=k_outliers[i], mode="markers",
                   marker=dict(color=k_colors[i], size=4.5)), 15)
for (a, b), ptxt, yb in zip(k_pairs, k_pvalues, k_bracket_y):
    add(go.Scatter(x=[a, a, b, b], y=[yb - 0.8, yb, yb, yb - 0.8], mode="lines",
                   line=dict(color="#333", width=0.8)), 15)
    ann.append(dict(text=ptxt, x=(a + b) / 2, y=yb, xref="x15", yref="y15", yanchor="bottom",
                    yshift=0, showarrow=False, borderpad=0,
                    font=dict(size=8, color="#222", family=FONT)))
text("Risk score", 97, 1058, 10, angle=-90)
text("ANRGcluster", 256, 1184, 10)
text("ANRGcluster", 175, 938, 10, "#222", xa="left")
for i, (g, kx) in enumerate(zip(k_groups, [238, 268, 298])):
    col = k_colors[i]
    shp.append(dict(type="rect", xref="paper", yref="paper", x0=px(kx), x1=px(kx + 12),
                    y0=py(943), y1=py(933), line=dict(color=col, width=1),
                    fillcolor="rgba(0,0,0,0)"))
    shp.append(dict(type="line", xref="paper", yref="paper", x0=px(kx), x1=px(kx + 12),
                    y0=py(938), y1=py(938), line=dict(color=col, width=1)))
    for a, b in [(929, 933), (943, 947)]:
        shp.append(dict(type="line", xref="paper", yref="paper", x0=px(kx + 6), x1=px(kx + 6),
                        y0=py(a), y1=py(b), line=dict(color=col, width=1)))
    text(g, kx + 19, 938, 9, "#222", xa="left")
letter("K", 66, 933)

# ============================ PANEL L (alluvial) ============================
L_X0, L_X1, L_Y0, L_Y1 = 458, 743, 936, 1154
l_col = [0, 0, 0, 1, 1, 2, 2]
l_col_px = [470.5, 600.5, 730.5]
l_tot = []
for i in range(len(l_nodes)):
    out_v = sum(v for s, v in zip(l_source, l_value) if s == i)
    in_v = sum(v for t, v in zip(l_target, l_value) if t == i)
    l_tot.append(max(out_v, in_v))
node_x, node_y = [], []
for i in range(len(l_nodes)):
    c = l_col[i]
    members = [k for k in range(len(l_nodes)) if l_col[k] == c]
    total = sum(l_tot[k] for k in members)
    before = sum(l_tot[k] for k in members if k < i)
    node_x.append((l_col_px[c] - L_X0) / (L_X1 - L_X0))
    node_y.append((before + l_tot[i] / 2) / total)
node_colors = ["#1a73f0", "#f7a21b", "#e8261e", "#1e9a5a", "#7b6697", "#e04a8b", "#dcd46a"]
src_colors = {0: "rgba(26,115,240,0.5)", 1: "rgba(247,162,27,0.5)", 2: "rgba(240,40,30,0.7)",
              3: "rgba(30,154,90,0.55)", 4: "rgba(123,102,151,0.55)"}
fig.add_trace(go.Sankey(
    domain=dict(x=[px(L_X0), px(L_X1)], y=[py(L_Y1), py(L_Y0)]),
    arrangement="fixed",
    node=dict(label=[""] * len(l_nodes), x=node_x, y=node_y, pad=0, thickness=25,
              color=node_colors, line=dict(color="#222", width=0.8)),
    link=dict(source=l_source, target=l_target, value=l_value,
              color=[src_colors[s] for s in l_source]),
    hoverinfo="skip"))
for i, lab in enumerate(l_nodes):
    text(lab, l_col_px[l_col[i]], L_Y0 + node_y[i] * (L_Y1 - L_Y0), 6.2, "#222")
for lab, cx in zip(l_axes, l_col_px):
    text(lab, cx + (6 if lab == "ANRGcluster" else 1), 1173, 8.5, "#666")
letter("L", 423, 939)

# ============================ LAYOUT ============================
fig.update_layout(width=W, height=H, margin=dict(l=0, r=0, t=0, b=0),
                  paper_bgcolor="white", plot_bgcolor="white", showlegend=False,
                  font=dict(family=FONT, color="#222"),
                  annotations=ann, shapes=shp, **axes)
fig.write_html("out.html")
